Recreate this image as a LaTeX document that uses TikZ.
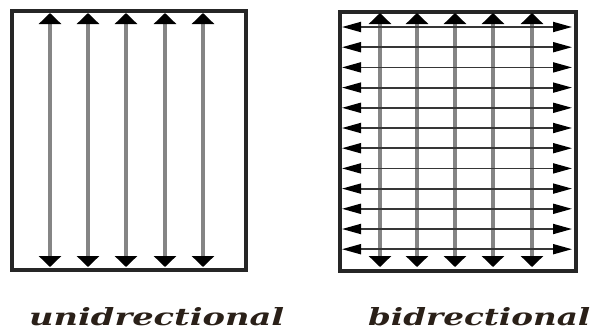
\documentclass[tikz,border=0pt]{standalone}
\usepackage{fontspec}
\usepackage{graphicx}
\newfontfamily\labelfont{DejaVu Serif}
\usetikzlibrary{arrows.meta}
\definecolor{frame}{HTML}{262626}
\definecolor{fibre}{HTML}{858585}
\definecolor{weft}{HTML}{363636}
\definecolor{caption}{HTML}{2A2018}
\tikzset{
  panel/.style={draw=frame, line width=3.2bp, inner sep=0pt, fill=white},
  warp/.style={draw=fibre, line width=3.2bp,
    {Triangle[length=11bp,width=22bp,black]}-{Triangle[length=11bp,width=22bp,black]}, shorten <=-1bp, shorten >=-1bp},
  cross/.style={draw=weft, line width=1.8bp,
    {Triangle[length=19bp,width=10bp,black]}-{Triangle[length=19bp,width=10bp,black]}},
  caplabel/.style={anchor=base west, inner sep=0pt, text=caption, font=\labelfont\bfseries\itshape}
}
\begin{document}
\begin{tikzpicture}[x=1bp, y=-1bp]
  \useasboundingbox (0,0) rectangle (593,331);

  % unidirectional panel
  \node[panel, minimum width=234bp, minimum height=259bp] (uni) at (129,140.5) {};
  \foreach \i/\x in {1/50, 2/88, 3/126, 4/165, 5/203} {
    \coordinate (ut\i) at (\x,14);
    \coordinate (ub\i) at (\x,266);
    \draw[warp] (ub\i) -- (ut\i);
  }

  % bidirectional panel
  \node[panel, minimum width=236bp, minimum height=259bp] (bi) at (458,141.5) {};
  \foreach \i/\x in {1/380, 2/417, 3/455, 4/493, 5/532} {
    \coordinate (bt\i) at (\x,14);
    \coordinate (bb\i) at (\x,266);
    \draw[warp] (bb\i) -- (bt\i);
  }
  \foreach \i in {0,...,11} {
    \pgfmathsetmacro{\yy}{27+20.2*\i}
    \coordinate (bl\i) at (342,\yy);
    \coordinate (br\i) at (572,\yy);
    \draw[cross] (bl\i) -- (br\i);
  }

  % captions
  \node[caplabel] (unicap) at (29,325) {\resizebox{255bp}{18bp}{unidrectional}};
  \node[caplabel] (bicap) at (368,325) {\resizebox{222bp}{18bp}{bidrectional}};
\end{tikzpicture}
\end{document}
